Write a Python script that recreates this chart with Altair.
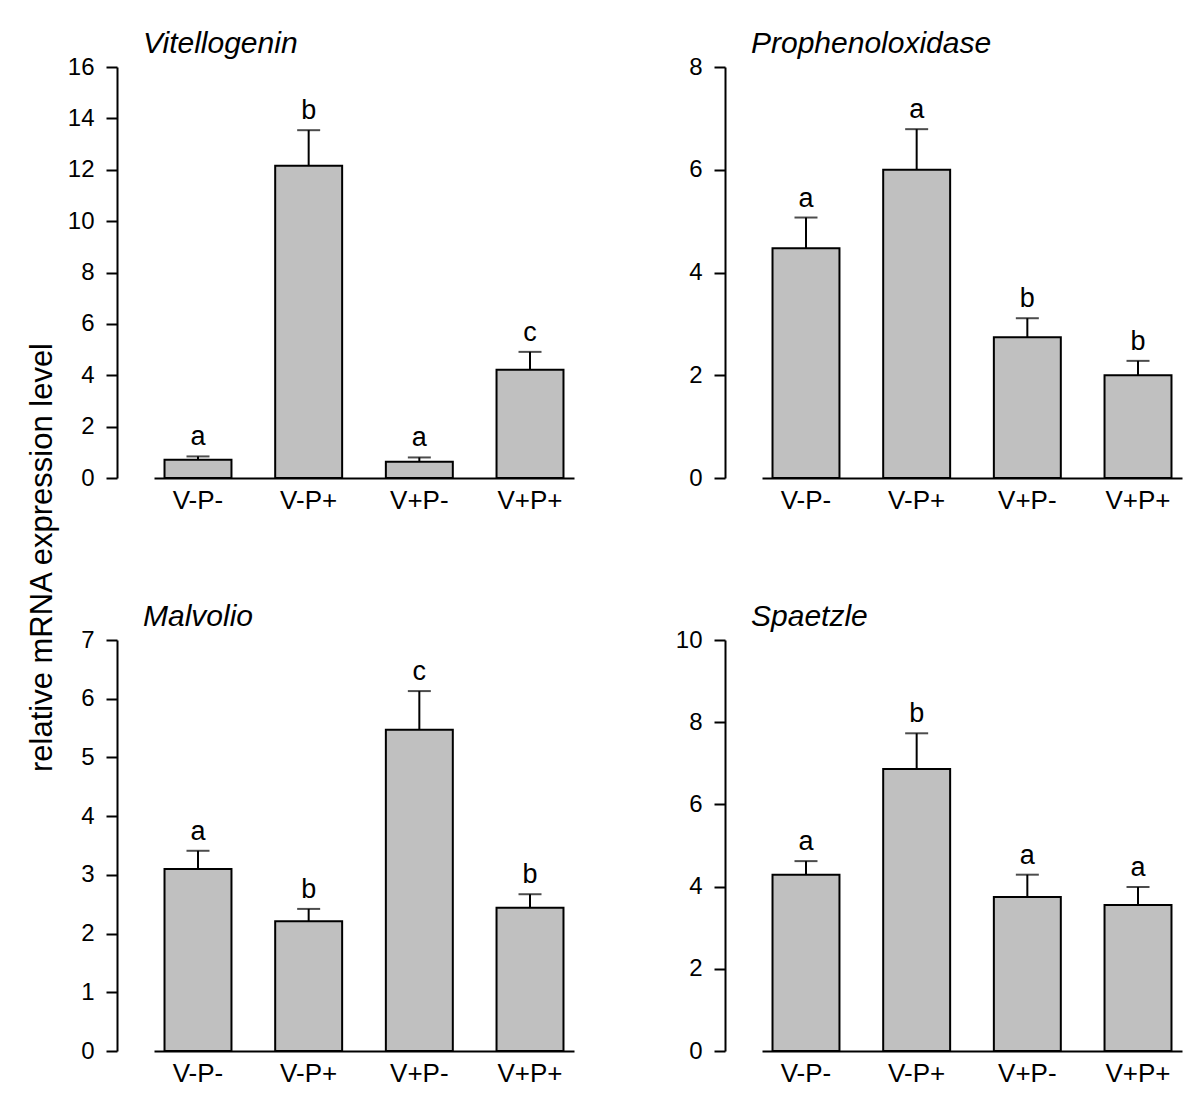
import altair as alt
import pandas as pd

FONT = "Liberation Sans"

groups = ["V-P-", "V-P+", "V+P-", "V+P+"]
genes = ["Vitellogenin", "Prophenoloxidase", "Malvolio", "Spaetzle"]

vit_mean = [0.71, 12.16, 0.63, 4.21]
vit_se = [0.13, 1.38, 0.17, 0.70]
vit_letters = ["a", "b", "a", "c"]

pro_mean = [4.47, 6.00, 2.74, 2.00]
pro_se = [0.60, 0.79, 0.37, 0.28]
pro_letters = ["a", "a", "b", "b"]

mal_mean = [3.10, 2.21, 5.47, 2.44]
mal_se = [0.31, 0.21, 0.66, 0.23]
mal_letters = ["a", "b", "c", "b"]

spa_mean = [4.29, 6.86, 3.75, 3.55]
spa_se = [0.33, 0.87, 0.54, 0.44]
spa_letters = ["a", "b", "a", "a"]

y_max = [16, 8, 7, 10]
y_step = [2, 2, 1, 2]

y_title = "relative mRNA expression level"


def panel(gene, means, ses, letters, ymax, ystep):
    df = pd.DataFrame({
        "group": groups,
        "mean": means,
        "upper": [m + s for m, s in zip(means, ses)],
        "letter": letters,
    })
    xs = alt.X(
        "group:N", sort=groups, title=None,
        scale=alt.Scale(domain=groups, paddingInner=0.395, paddingOuter=0.095),
        axis=alt.Axis(ticks=False, labelAngle=0, labelFontSize=26, labelPadding=9,
                      domainWidth=2, domainColor="black", labelColor="black",
                      labelFont=FONT),
    )
    ys = alt.Y(
        "mean:Q", title=None,
        scale=alt.Scale(domain=[0, ymax], nice=False, zero=True),
        axis=alt.Axis(values=list(range(0, ymax + 1, ystep)), format="d", offset=37,
                      tickSize=11, tickWidth=2, tickColor="black", domainWidth=2,
                      domainColor="black", labelFontSize=24, labelPadding=12,
                      grid=False, labelColor="black", labelFont=FONT),
    )
    xo = alt.X("group:N", sort=groups, title=None)
    base = alt.Chart(df)
    bars = base.mark_bar(fill="#c0c0c0", stroke="black", strokeWidth=2).encode(x=xs, y=ys)
    rule = base.mark_rule(color="black", strokeWidth=2).encode(
        x=xo, y=alt.Y("mean:Q", title=None), y2="upper:Q")
    cap = base.mark_tick(color="black", thickness=2, size=23).encode(
        x=xo, y=alt.Y("upper:Q", title=None))
    txt = base.mark_text(fontSize=27, baseline="alphabetic", dy=-11, font=FONT,
                         color="black").encode(
        x=xo, y=alt.Y("upper:Q", title=None), text="letter:N")
    return alt.layer(bars, rule, cap, txt).properties(
        width=420, height=411,
        title=alt.TitleParams(gene, anchor="start", frame="group", fontSize=30,
                              fontStyle="italic", fontWeight="normal", font=FONT,
                              color="black", dx=-11, offset=-4),
    )


p1 = panel(genes[0], vit_mean, vit_se, vit_letters, y_max[0], y_step[0])
p2 = panel(genes[1], pro_mean, pro_se, pro_letters, y_max[1], y_step[1])
p3 = panel(genes[2], mal_mean, mal_se, mal_letters, y_max[2], y_step[2])
p4 = panel(genes[3], spa_mean, spa_se, spa_letters, y_max[3], y_step[3])

chart = alt.concat(
    p1, p2, p3, p4, columns=2, spacing={"row": 89, "column": 101}
).properties(
    title=alt.TitleParams(y_title, orient="left", anchor="middle", fontSize=31,
                          fontWeight="normal", font=FONT, color="black", offset=8),
    padding={"left": 19, "top": 21, "right": 5, "bottom": 5},
).configure_view(stroke=None)

chart.save("out.html", embed_options={"renderer": "svg", "actions": False})
